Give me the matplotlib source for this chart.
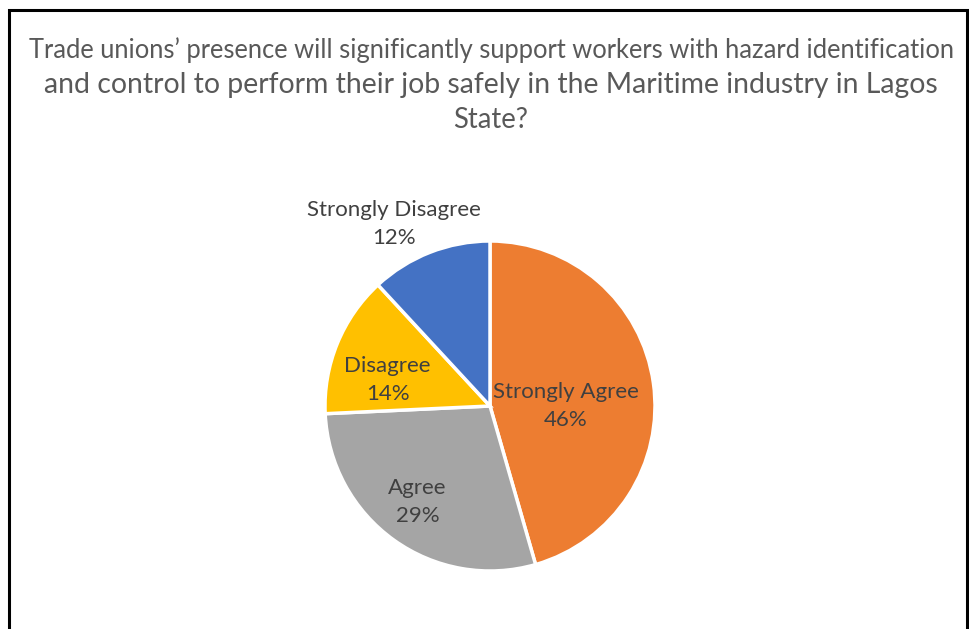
import matplotlib
matplotlib.use("Agg")
import matplotlib.pyplot as plt
from matplotlib.patches import Rectangle

# survey answers, clockwise from the top
answers = ["Strongly Agree", "Agree", "Disagree", "Strongly Disagree"]
shares = [46, 29, 14, 12]
colours = ["#ED7D31", "#A5A5A5", "#FFC000", "#4472C4"]

title_lines = ["Trade unions\u2019 presence will significantly support workers with hazard identification",
               "and control to perform their job safely in the Maritime industry in Lagos",
               "State?"]

W, H = 969, 629
plt.rcParams['font.family'] = ['Lato', 'DejaVu Sans']

fig = plt.figure(figsize=(W / 100, H / 100), dpi=100)
fig.patch.set_facecolor("white")

# chart frame, open at the bottom
fig.add_artist(Rectangle((9 / W, -0.05), (967 - 9) / W, (H - 10) / H + 0.05,
                         transform=fig.transFigure, fill=False,
                         edgecolor="black", linewidth=2.2))

# title, one line at a time (baselines in pixels from the top)
for line, base, size in zip(title_lines, [58, 93, 128], [18.4, 20.4, 19.8]):
    fig.text(491 / W, 1 - base / H, line, ha="center", va="baseline",
             fontsize=size, color="#595959")

cx, cy, r = 490, 406, 165
ax = fig.add_axes([(cx - r) / W, (H - cy - r) / H, 2 * r / W, 2 * r / H])
wedges, _ = ax.pie(shares, colors=colours, startangle=90, counterclock=False,
                   radius=1, wedgeprops=dict(edgecolor="white", linewidth=2.5))
ax.set_xlim(-1, 1)
ax.set_ylim(-1, 1)
ax.set_aspect("equal")
ax.axis("off")

label_xy = [(0.46, 0.0), (-0.44, -0.58), (-0.62, 0.16), (-0.58, 1.10)]
for name, val, (x, y) in zip(answers, shares, label_xy):
    ax.text(x, y, "%s\n%d%%" % (name, val), ha="center", va="center",
            fontsize=16, color="#404040", linespacing=1.5, clip_on=False)

fig.savefig("out.png", dpi=100)
